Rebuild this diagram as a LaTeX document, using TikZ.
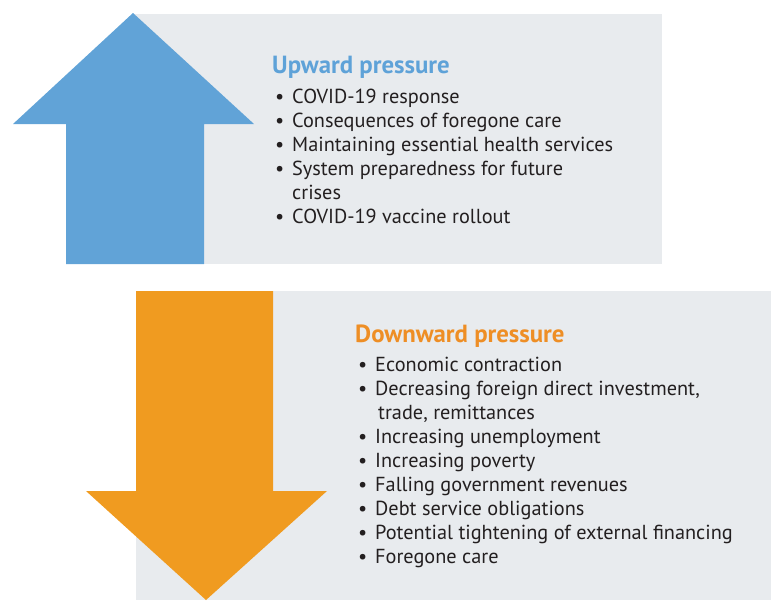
\documentclass[tikz,border=0pt]{standalone}
\usepackage{fontspec}
\setmainfont{PT Sans}
\definecolor{graybg}{HTML}{E8EBEE}
\definecolor{upblue}{HTML}{61A3D7}
\definecolor{downorange}{HTML}{F09B20}
\definecolor{titleblue}{HTML}{5EA2D8}
\definecolor{titleorange}{HTML}{EE8E25}
\definecolor{bodytext}{HTML}{231F20}
\newcommand{\bul}{\makebox[17pt][l]{\textbullet}}
\newcommand{\ind}{\hspace*{17pt}}
\begin{document}
\begin{tikzpicture}[x=1pt,y=-1pt,
  heading/.style={inner sep=0pt, anchor=base west, font=\fontsize{24.8}{28}\selectfont\bfseries},
  itemtext/.style={inner sep=0pt, anchor=base west, text=bodytext, font=\fontsize{20.3}{24}\selectfont}]
\useasboundingbox (0,0) rectangle (771,600);
% upper panel
\fill[graybg] (133,14) rectangle (662,264);
\fill[upblue] (133,13) -- (254,124) -- (204,124) -- (204,264) -- (66,264) -- (66,124) -- (13,124) -- cycle;
% lower panel
\fill[graybg] (136,291) rectangle (771,600);
\fill[downorange] (136,291) -- (273,291) -- (273,491) -- (327,491) -- (206,600) -- (86,491) -- (136,491) -- cycle;
% upward text
\node[heading, text=titleblue] (ut) at (272,73) {Upward pressure};
\node[itemtext] (u1) at (275,103) {\bul COVID-19 response};
\node[itemtext] (u2) at (275,127) {\bul Consequences of foregone care};
\node[itemtext] (u3) at (275,151) {\bul Maintaining essential health services};
\node[itemtext] (u4) at (275,175) {\bul System preparedness for future};
\node[itemtext] (u5) at (275,199) {\ind crises};
\node[itemtext] (u6) at (275,223) {\bul COVID-19 vaccine rollout};
% downward text
\node[heading, text=titleorange] (dt) at (355,342) {Downward pressure};
\node[itemtext] (d1) at (358,371) {\bul Economic contraction};
\node[itemtext] (d2) at (358,395) {\bul Decreasing foreign direct investment,};
\node[itemtext] (d3) at (358,419) {\ind\hspace*{3pt}trade, remittances};
\node[itemtext] (d4) at (358,443) {\bul Increasing unemployment};
\node[itemtext] (d5) at (358,467) {\bul Increasing poverty};
\node[itemtext] (d6) at (358,491) {\bul Falling government revenues};
\node[itemtext] (d7) at (358,515) {\bul Debt service obligations};
\node[itemtext] (d8) at (358,539) {\bul Potential tightening of external financing};
\node[itemtext] (d9) at (358,563) {\bul Foregone care};
\end{tikzpicture}
\end{document}
